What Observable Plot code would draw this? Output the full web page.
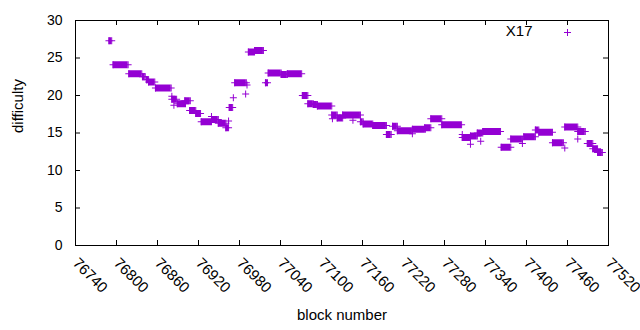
<!DOCTYPE html>
<html>
<head>
<meta charset="utf-8">
<script src="https://cdn.jsdelivr.net/npm/d3@7"></script>
<script src="https://cdn.jsdelivr.net/npm/@observablehq/plot@0.6"></script>
<style>
  html, body { margin: 0; padding: 0; background: #fff; }
  #chart { width: 640px; height: 330px; }
</style>
</head>
<body>
<div id="chart"></div>
<script>
// Runs of consecutive blocks sharing one difficulty (single points have start === end)
const runStart = [76789,76795,76818,76838,76844,76847,76857,76881,76881,76884,76889,76900,76907,76916,76924,76939,76940,76949,76960,76964,76965,76971,76973,76989,76991,76993,77002,77018,77022,77041,77050,77072,77080,77088,77094,77115,77116,77123,77131,77146,77157,77161,77175,77195,77204,77211,77233,77233,77251,77260,77276,77306,77306,77318,77318,77328,77333,77336,77363,77377,77394,77396,77413,77418,77438,77456,77456,77475,77475,77489,77497,77504];
const runEnd   = [76793,76817,76837,76842,76847,76856,76880,76881,76888,76884,76901,76908,76916,76923,76939,76939,76949,76960,76964,76964,76970,76971,76990,76989,76991,77002,77015,77021,77041,77050,77071,77080,77088,77094,77115,77123,77116,77131,77157,77146,77161,77175,77195,77202,77211,77233,77233,77252,77260,77276,77305,77306,77318,77318,77328,77336,77333,77362,77377,77394,77394,77413,77418,77438,77454,77456,77475,77475,77486,77497,77504,77511];
const runValue = [27.3,24.1,22.9,22.5,22.1,21.8,21.0,19.9,19.5,18.7,18.9,19.3,18.0,17.6,16.5,17.2,16.8,16.3,15.7,16.6,18.4,19.7,21.7,20.2,21.4,25.8,26.0,21.7,23.0,22.8,22.9,20.0,18.9,18.8,18.6,17.4,16.9,17.0,17.4,16.7,16.5,16.2,16.0,14.8,15.9,15.3,14.9,15.5,15.7,16.9,16.1,14.8,14.4,13.5,14.6,15.0,13.9,15.2,13.1,14.2,13.6,14.5,15.4,15.1,13.7,13.0,15.8,14.2,15.2,13.6,12.9,12.4];

const xTicks = [76740,76800,76860,76920,76980,77040,77100,77160,77220,77280,77340,77400,77460,77520];
const yTicks = [0,5,10,15,20,25,30];
const seriesName = "X17";

const runs = runStart.map((s, i) => ({start: s, end: runEnd[i], value: runValue[i]}));
const ends = runs.flatMap(r => r.start === r.end ? [{x: r.start, y: r.value}] : [{x: r.start, y: r.value}, {x: r.end, y: r.value}]);

const purple = "#9400D3";
const plusSymbol = {
  draw(context, size) {
    const s = Math.sqrt(size / Math.PI);
    context.moveTo(-s, 0); context.lineTo(s, 0);
    context.moveTo(0, -s); context.lineTo(0, s);
  }
};

const chart = Plot.plot({
  width: 640,
  height: 330,
  marginLeft: 75,
  marginRight: 32,
  marginTop: 20,
  marginBottom: 85,
  style: {fontFamily: "'Liberation Sans', Arial, sans-serif", fontSize: "14px", background: "white", color: "black", overflow: "hidden"},
  x: {domain: [76740, 77520], axis: null},
  y: {domain: [0, 30], axis: null},
  marks: [
    Plot.frame({stroke: "black"}),
    // inward ticks on all four sides
    Plot.ruleX(xTicks, {x: d => d, y1: 0, y2: 0, insetBottom: 5, stroke: "black"}),
    Plot.ruleX(xTicks, {x: d => d, y1: 30, y2: 30, insetBottom: -5, stroke: "black"}),
    Plot.ruleY(yTicks, {y: d => d, x1: 76740, x2: 76740, insetRight: -5, stroke: "black"}),
    Plot.ruleY(yTicks, {y: d => d, x1: 77520, x2: 77520, insetRight: 5, stroke: "black"}),
    // tick labels
    Plot.text(yTicks, {y: d => d, frameAnchor: "left", dx: -13, textAnchor: "end", lineAnchor: "middle", text: d => String(d), fontSize: 14}),
    Plot.text(xTicks, {x: d => d, frameAnchor: "bottom", rotate: 45, textAnchor: "start", lineAnchor: "top", dx: 4, dy: 11, text: d => String(d), fontSize: 15}),
    // axis titles
    Plot.text(["difficulty"], {frameAnchor: "left", dx: -57, rotate: -90, lineAnchor: "middle", text: d => d, fontSize: 15}),
    Plot.text(["block number"], {frameAnchor: "bottom", dy: 70, lineAnchor: "middle", text: d => d, fontSize: 15}),
    // data
    Plot.ruleY(runs, {x1: "start", x2: "end", y: "value", stroke: purple, strokeWidth: 7}),
    Plot.dot(ends, {x: "x", y: "y", r: 3.5, symbol: plusSymbol, stroke: purple, fill: "none", strokeWidth: 1}),
    // legend
    Plot.text([seriesName], {frameAnchor: "top-right", dx: -76, dy: 11, textAnchor: "end", lineAnchor: "middle", text: d => d, fontSize: 15}),
    Plot.dot([0], {frameAnchor: "top-right", dx: -41, dy: 12, r: 3.5, symbol: plusSymbol, stroke: purple, fill: "none", strokeWidth: 1})
  ]
});
document.getElementById("chart").appendChild(chart);
</script>
</body>
</html>
